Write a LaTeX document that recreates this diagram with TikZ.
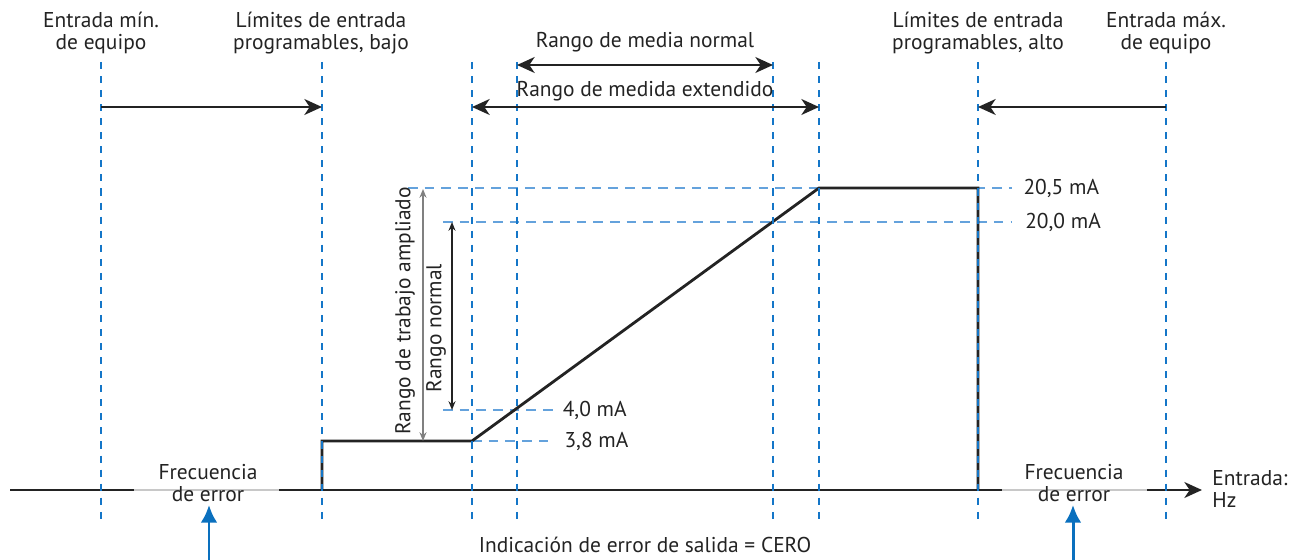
\documentclass[tikz,border=0pt]{standalone}
\usepackage{fontspec}
\setmainfont{PT Sans}
\usetikzlibrary{arrows.meta}

\definecolor{guideblue}{RGB}{20,118,200}
\definecolor{levelblue}{RGB}{100,162,220}
\definecolor{markblue}{RGB}{10,112,190}
\definecolor{inkgray}{RGB}{35,35,35}
\definecolor{errgray}{RGB}{200,200,200}

\tikzset{
  guide/.style = {guideblue, line width=1.1pt, dash pattern=on 4pt off 4pt},
  level/.style = {levelblue, line width=1.1pt, dash pattern=on 5.5pt off 4pt},
  signal/.style = {inkgray, line width=1.6pt},
  rangearrow/.style = {inkgray, line width=1.6pt, {Stealth[length=10pt,width=9pt,inset=3pt]}-{Stealth[length=10pt,width=9pt,inset=3pt]}},
  toarrow/.style = {inkgray, line width=1.6pt, -{Stealth[length=10pt,width=9pt,inset=3pt]}},
  spanarrow/.style = {line width=0.8pt, {Stealth[length=5pt,width=4pt]}-{Stealth[length=5pt,width=4pt]}},
  label/.style = {text=inkgray, font=\fontsize{12.2}{12.6}\selectfont, align=center, inner sep=0pt}
}

\begin{document}
\begin{tikzpicture}[x=0.02cm, y=-0.02cm]
\useasboundingbox (0,0) rectangle (1292,560);

\coordinate (eminT) at (101,62);   \coordinate (eminB) at (101,522);
\coordinate (plowT) at (322,62);   \coordinate (plowB) at (322,522);
\coordinate (ext1T) at (472,62);   \coordinate (ext1B) at (472,522);
\coordinate (nor1T) at (517,62);   \coordinate (nor1B) at (517,522);
\coordinate (nor2T) at (773,62);   \coordinate (nor2B) at (773,522);
\coordinate (ext2T) at (819,62);   \coordinate (ext2B) at (819,522);
\coordinate (phighT) at (978,62);  \coordinate (phighB) at (978,522);
\coordinate (emaxT) at (1166,62);  \coordinate (emaxB) at (1166,522);

% output levels
\coordinate (l205a) at (408,188);  \coordinate (l205b) at (1012,188);
\coordinate (l200a) at (443,222);  \coordinate (l200b) at (1012,222);
\coordinate (l40a) at (443,410);   \coordinate (l40b) at (553,410);
\coordinate (l38a) at (472,441);   \coordinate (l38b) at (553,441);
\draw[level] (l205a) -- (l205b) node[label, anchor = west, xshift=6pt] {20,5 mA};
\draw[level] (l200a) -- (l200b) node[label, anchor = west, xshift=7pt] {20,0 mA};
\draw[level] (l40a) -- (l40b) node[label, anchor = west, xshift=5pt] {4,0 mA};
\draw[level] (l38a) -- (l38b) node[label, anchor = west, xshift=6pt] {3,8 mA};

% axis
\coordinate (ax0) at (10,490);
\coordinate (ax1) at (1202,490);
\draw[toarrow] (ax0) -- (ax1);
\coordinate (err1a) at (134,490); \coordinate (err1b) at (279,490);
\coordinate (err2a) at (1002,490); \coordinate (err2b) at (1147,490);
\draw[errgray, line width=1.7pt] (err1a) -- (err1b);
\draw[errgray, line width=1.7pt] (err2a) -- (err2b);
\node[label, anchor = west, align=left] (hz) at (1212,489) {Entrada:\\Hz};

% signal
\coordinate (s0) at (322,490);
\coordinate (s1) at (322,441);
\coordinate (s2) at (472,441);
\coordinate (s3) at (819,188);
\coordinate (s4) at (978,188);
\coordinate (s5) at (978,490);
\draw[signal] (s0) -- (s1) -- (s2) -- (s3) -- (s4) -- (s5);

\foreach \n in {emin, plow, ext1, nor1, nor2, ext2, phigh, emax}
  \draw[guide] (\n T) -- (\n B);

% ranges
\coordinate (eminM) at (101,107);  \coordinate (plowM) at (322,107);
\coordinate (emaxM) at (1166,107); \coordinate (phighM) at (978,107);
\coordinate (ext1M) at (472,107);  \coordinate (ext2M) at (819,107);
\coordinate (nor1U) at (517,65);   \coordinate (nor2U) at (773,65);
\draw[toarrow] (eminM) -- (plowM);
\draw[toarrow] (emaxM) -- (phighM);
\draw[rangearrow] (nor1U) -- (nor2U);
\draw[rangearrow] (ext1M) -- (ext2M);
\node[label] (normal) at (645,42) {Rango de media normal};
\node[label] (extended) at (645,91) {Rango de medida extendido};

\coordinate (wide1) at (423,189); \coordinate (wide2) at (423,441);
\coordinate (norm1) at (452,222); \coordinate (norm2) at (452,410);
\draw[spanarrow, gray] (wide1) -- (wide2);
\draw[spanarrow, inkgray] (norm1) -- (norm2);
\node[label, rotate=90] (widelbl) at (405,311) {Rango de trabajo ampliado};
\node[label, rotate=90] (normlbl) at (436,328) {Rango normal};

% top labels
\node[label] (eminlbl) at (101,33) {Entrada mín.\\de equipo};
\node[label] (plowlbl) at (321,33) {Límites de entrada\\programables, bajo};
\node[label] (phighlbl) at (978,33) {Límites de entrada\\programables, alto};
\node[label] (emaxlbl) at (1166,33) {Entrada máx.\\de equipo};

% error indication
\node[label] (err1) at (208,483) {Frecuencia\\de error};
\node[label] (err2) at (1074,483) {Frecuencia\\de error};
\coordinate (mk1) at (209,560); \coordinate (mk1t) at (209,505);
\coordinate (mk2) at (1073,560); \coordinate (mk2t) at (1073,505);
\draw[markblue, line width=1.7pt, -{Latex[length=10pt,width=9.5pt]}] (mk1) -- (mk1t);
\draw[markblue, line width=1.7pt, -{Latex[length=10pt,width=9.5pt]}] (mk2) -- (mk2t);
\node[label] (zero) at (645,545) {Indicación de error de salida = CERO};
\end{tikzpicture}
\end{document}
